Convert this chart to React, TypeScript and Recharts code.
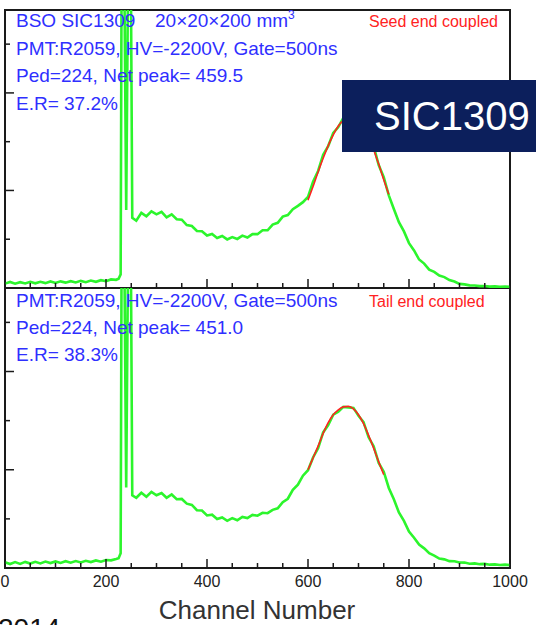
import { LineChart, Line, XAxis, YAxis, ReferenceArea } from 'recharts';

const FONT = '"Liberation Sans", Arial, sans-serif';
const GREEN = '#2cf52c';
const RED = '#ff2222';
const BLUE = '#2f2fff';
const FRAME = '#1a1a1a';

// channel numbers shared by both spectra
const channels = [
  0, 10, 20, 30, 40, 50, 60, 70, 80, 90, 100, 110, 120, 130, 140, 150, 160, 170, 180, 190, 200, 210, 220,
  225, 229, 231, 236, 240, 244, 249, 252,
  260, 270, 280, 290, 300, 310, 320, 330, 340, 350, 360, 370, 380, 390, 400, 410, 420, 430, 440, 450,
  460, 470, 480, 490, 500, 510, 520, 530, 540, 550, 560, 570, 580, 590, 600, 610, 620, 630, 640, 650,
  660, 670, 680, 690, 700, 710, 720, 730, 740, 750, 760, 770, 780, 790, 800, 810, 820, 830, 840, 850,
  860, 870, 880, 890, 900, 910, 920, 930, 940, 950, 960, 970, 980, 990, 1000,
];

// seed end coupled
const seedCounts = [
  45, 62, 44, 60, 46, 63, 48, 64, 50, 67, 52, 68, 55, 70, 57, 73, 60, 76, 63, 80, 70, 88, 84,
  95, 140, 3400, 3400, 800, 3400, 3400, 720,
  690, 770, 735, 785, 755, 780, 725, 755, 705, 700, 645, 635, 585, 582, 538, 553, 512, 533, 498, 522,
  503, 537, 517, 553, 552, 592, 592, 650, 668, 732, 748, 808, 842, 880, 935, 1090, 1200, 1365, 1455, 1590,
  1650, 1745, 1760, 1775, 1730, 1680, 1570, 1455, 1260, 1135, 950, 810, 675, 580, 460, 385, 292, 250, 188, 165,
  128, 112, 82, 66, 42, 37, 27, 26, 19, 20, 14, 17, 12, 14, 11,
];

// tail end coupled
const tailCounts = [
  58, 40, 60, 42, 62, 45, 63, 47, 65, 50, 67, 52, 69, 54, 71, 57, 73, 60, 77, 64, 82, 78, 92,
  100, 150, 3400, 3400, 820, 3400, 3400, 740,
  715, 765, 725, 775, 740, 762, 715, 748, 700, 703, 655, 642, 588, 585, 535, 543, 498, 515, 480, 508,
  486, 520, 508, 540, 532, 562, 558, 592, 608, 670, 705, 795, 848, 940, 995, 1125, 1220, 1380, 1455, 1560,
  1590, 1640, 1635, 1630, 1550, 1485, 1330, 1240, 1070, 980, 815, 700, 565, 480, 370, 308, 238, 200, 150, 126,
  96, 88, 70, 69, 56, 55, 44, 47, 39, 42, 34, 37, 30, 34, 29,
];

// gaussian fits around the photopeak
const seedFitCh = [600, 610, 620, 630, 640, 650, 660, 670, 680, 690, 700, 710, 720, 730, 740, 750, 760];
const seedFit = [900, 1040, 1190, 1330, 1460, 1570, 1660, 1720, 1755, 1760, 1735, 1680, 1590, 1420, 1270, 1110, 960];
const tailFitCh = [600, 610, 620, 630, 640, 650, 660, 670, 680, 690, 700, 710, 720, 730, 740, 750];
const tailFit = [1000, 1120, 1240, 1370, 1480, 1560, 1610, 1640, 1645, 1620, 1560, 1470, 1350, 1220, 1080, 950];

const xTicks = [0, 50, 100, 150, 200, 250, 300, 350, 400, 450, 500, 550, 600, 650, 700, 750, 800, 850, 900, 950, 1000];
const yTicks = [500, 1000, 1500, 2000, 2500];
const Y_MAX = 2850;

const seedData = channels.map((ch, i) => ({ ch, v: seedCounts[i] }));
const tailData = channels.map((ch, i) => ({ ch, v: tailCounts[i] }));
const seedFitData = seedFitCh.map((ch, i) => ({ ch, v: seedFit[i] }));
const tailFitData = tailFitCh.map((ch, i) => ({ ch, v: tailFit[i] }));

function makeXTick(showLabel: boolean) {
  return (props: any) => {
    const { x, y, payload } = props;
    const major = payload.value % 200 === 0;
    return (
      <g>
        <line x1={x} x2={x} y1={y} y2={y - (major ? 9 : 5)} stroke={FRAME} strokeWidth={1.5} />
        {showLabel && major && (
          <text x={x} y={y + 19} textAnchor="middle" fontSize={16} fill="#222" fontFamily={FONT}>
            {payload.value}
          </text>
        )}
      </g>
    );
  };
}

const YTick = (props: any) => {
  const { x, y, payload } = props;
  const major = payload.value % 1000 === 0;
  return <line x1={x} x2={x + (major ? 9 : 5)} y1={y} y2={y} stroke={FRAME} strokeWidth={1.5} />;
};

function Spectrum({ top, height, axisHeight, data, fit, labels }: any) {
  return (
    <div style={{ position: 'absolute', left: 0, top }}>
      <LineChart width={536} height={height} data={data} margin={{ top: top === 0 ? 10 : 0, right: 26, left: 0, bottom: 0 }}>
        <XAxis
          dataKey="ch"
          type="number"
          domain={[0, 1000]}
          ticks={xTicks}
          interval={0}
          axisLine={false}
          tickLine={false}
          tickSize={0}
          tickMargin={0}
          height={axisHeight}
          tick={makeXTick(labels)}
        />
        <YAxis
          type="number"
          domain={[0, Y_MAX]}
          allowDataOverflow
          ticks={yTicks}
          interval={0}
          width={5}
          axisLine={false}
          tickLine={false}
          tickSize={0}
          tickMargin={0}
          tick={YTick}
        />
        <Line data={data} dataKey="v" type="linear" stroke={GREEN} strokeWidth={2.6} dot={false} activeDot={false} isAnimationActive={false} />
        <Line data={fit} dataKey="v" type="monotone" stroke={RED} strokeWidth={1.6} dot={false} activeDot={false} isAnimationActive={false} />
        <ReferenceArea x1={0} x2={1000} y1={0} y2={Y_MAX} fill="none" fillOpacity={0} stroke={FRAME} strokeWidth={2} ifOverflow="visible" />
      </LineChart>
    </div>
  );
}

export default function App() {
  return (
    <div style={{ position: 'absolute', left: 0, top: 0, width: 536, height: 625, overflow: 'hidden', background: '#fff' }}>
      <Spectrum top={0} height={290} axisHeight={2} data={seedData} fit={seedFitData} labels={false} />
      <Spectrum top={288} height={337} axisHeight={57} data={tailData} fit={tailFitData} labels />
      <svg width={536} height={625} style={{ position: 'absolute', left: 0, top: 0, pointerEvents: 'none' }} fontFamily={FONT}>
        <g fill={BLUE} fontSize={19}>
          <text x={16} y={27}>
            BSO SIC1309
            <tspan x={155}>20×20×200 mm</tspan>
            <tspan fontSize={12} dy={-8}>3</tspan>
          </text>
          <text x={16} y={55}>PMT:R2059, HV=-2200V, Gate=500ns</text>
          <text x={16} y={82}>Ped=224, Net peak= 459.5</text>
          <text x={16} y={110}>E.R= 37.2%</text>
          <text x={16} y={307}>PMT:R2059, HV=-2200V, Gate=500ns</text>
          <text x={16} y={334}>Ped=224, Net peak= 451.0</text>
          <text x={16} y={361}>E.R= 38.3%</text>
        </g>
        <g fill={RED} fontSize={16}>
          <text x={369} y={27}>Seed end coupled</text>
          <text x={369} y={307}>Tail end coupled</text>
        </g>
        <rect x={342} y={80} width={194} height={72} fill="#0c1f5c" />
        <text x={374} y={130} fontSize={40} fill="#fff">SIC1309</text>
        <text x={257} y={619} fontSize={26} fill="#333" textAnchor="middle">Channel Number</text>
        <text x={-2} y={638} fontSize={28} fill="#111">2014</text>
      </svg>
    </div>
  );
}
